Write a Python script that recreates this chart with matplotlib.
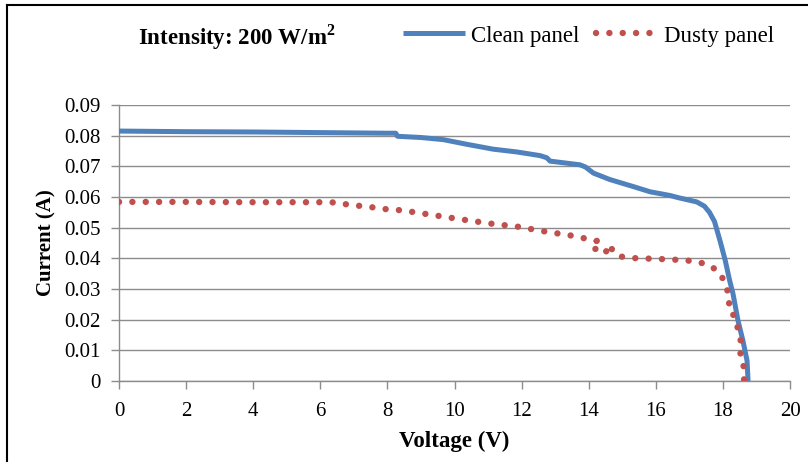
import matplotlib
matplotlib.use("Agg")
import matplotlib.pyplot as plt
from matplotlib.lines import Line2D

# ---- data ----
clean_v = [0, 2, 4, 6, 7.98, 8.25, 8.3, 9.0, 9.67, 10.36, 11.15, 11.85, 12.55, 12.75,
           12.85, 13.74, 13.9, 14.14, 14.63, 15.33, 15.83, 16.42, 16.7, 17.22, 17.45,
           17.6, 17.75, 17.92, 18.07, 18.2, 18.3, 18.45, 18.6, 18.72, 18.75]
clean_i = [0.0815, 0.0813, 0.0812, 0.0810, 0.0808, 0.0808, 0.0798, 0.0794, 0.0787, 0.0772,
           0.0756, 0.0747, 0.0735, 0.0728, 0.0717, 0.0705, 0.0698, 0.0678, 0.0657, 0.0634,
           0.0617, 0.0605, 0.0597, 0.0584, 0.0570, 0.0550, 0.0520, 0.0455, 0.0393, 0.0328,
           0.0285, 0.0197, 0.0130, 0.0066, 0.0]

dusty_v = [0, 2, 4, 6, 6.5, 6.78, 7.18, 7.58, 7.98, 8.38, 8.77, 9.55, 10.33, 11.1, 11.9,
           12.67, 13.44, 13.84, 14.24, 14.12, 14.26, 14.5, 14.62, 14.65, 14.88, 15.28,
           16.08, 16.87, 17.27, 17.63, 17.93, 18.09, 18.21, 18.16, 18.38, 18.46, 18.56,
           18.51, 18.63, 18.63]
dusty_i = [0.0584, 0.0584, 0.0583, 0.0583, 0.0582, 0.0576, 0.0571, 0.0566, 0.0560, 0.0557,
           0.0551, 0.0538, 0.0525, 0.0513, 0.0503, 0.0488, 0.0475, 0.0466, 0.0457, 0.0426,
           0.0434, 0.0418, 0.0446, 0.0435, 0.0407, 0.0401, 0.0398, 0.0394, 0.0388, 0.0376,
           0.0350, 0.0310, 0.0269, 0.0238, 0.0205, 0.0162, 0.0118, 0.0080, 0.0044, 0.0]

x_ticks = list(range(0, 21, 2))
y_ticks = [0, 0.01, 0.02, 0.03, 0.04, 0.05, 0.06, 0.07, 0.08, 0.09]
y_tick_labels = ["0", "0.01", "0.02", "0.03", "0.04", "0.05", "0.06", "0.07", "0.08", "0.09"]

title_text = "Intensity: 200 W/m$^{\\mathbf{2}}$"
series_names = ["Clean panel", "Dusty panel"]
x_label = "Voltage (V)"
y_label = "Current (A)"

# ---- style ----
plt.rcParams['font.family'] = ['Liberation Serif', 'DejaVu Serif']
plt.rcParams['mathtext.fontset'] = 'custom'
plt.rcParams['mathtext.rm'] = 'Liberation Serif'
plt.rcParams['mathtext.bf'] = 'Liberation Serif:bold'

W, H = 808, 462
fig = plt.figure(figsize=(W / 100, H / 100), dpi=100)
L, R, T, B = 119, 790, 105, 381
ax = fig.add_axes([L / W, 1 - B / H, (R - L) / W, (B - T) / H])

blue = "#4F81BD"
red = "#C0504D"
grid_c = "#8C8C8C"

ax.plot(clean_v, clean_i, color=blue, lw=3.6, solid_joinstyle='round',
        solid_capstyle='butt', label=series_names[0], zorder=3)
ax.plot(dusty_v, dusty_i, color=red, lw=4.6, ls=(0, (0.01, 2.08)),
        dash_capstyle='round', label=series_names[1], zorder=4)

ax.set_xlim(0, 20)
ax.set_ylim(0, 0.09)
ax.set_xticks(x_ticks)
ax.set_yticks(y_ticks)
ax.set_yticklabels(y_tick_labels)
ax.grid(axis='y', color=grid_c, lw=1.0)
ax.set_axisbelow(True)
for s in ['top', 'right']:
    ax.spines[s].set_visible(False)
for s in ['left', 'bottom']:
    ax.spines[s].set_color(grid_c)
    ax.spines[s].set_linewidth(1.0)
ax.tick_params(axis='both', colors=grid_c, labelcolor='black', labelsize=15,
               length=6, width=1.0, direction='out')
ax.tick_params(axis='y', pad=7)
ax.tick_params(axis='x', pad=9)

ax.set_xlabel(x_label, fontsize=16.5, fontweight='bold', labelpad=7)
ax.set_ylabel(y_label, fontsize=15, fontweight='bold', labelpad=6)

fig.text(138 / W, 1 - 37 / H, title_text, fontsize=16.5, fontweight='bold',
         ha='left', va='center')

leg = fig.legend(loc='center left', bbox_to_anchor=(403 / W, 1 - 36 / H), ncol=2,
                 frameon=False, fontsize=16.5, handlelength=2.7, handletextpad=0.25,
                 columnspacing=0.75, borderaxespad=0, borderpad=0)

# figure border (top and left)
fig.add_artist(Line2D([7 / W, 1.0], [1 - 5 / H, 1 - 5 / H], transform=fig.transFigure,
                      color='black', lw=1.5))
fig.add_artist(Line2D([7 / W, 7 / W], [0, 1 - 5 / H], transform=fig.transFigure,
                      color='black', lw=1.5))

fig.savefig("out.png", dpi=100)
